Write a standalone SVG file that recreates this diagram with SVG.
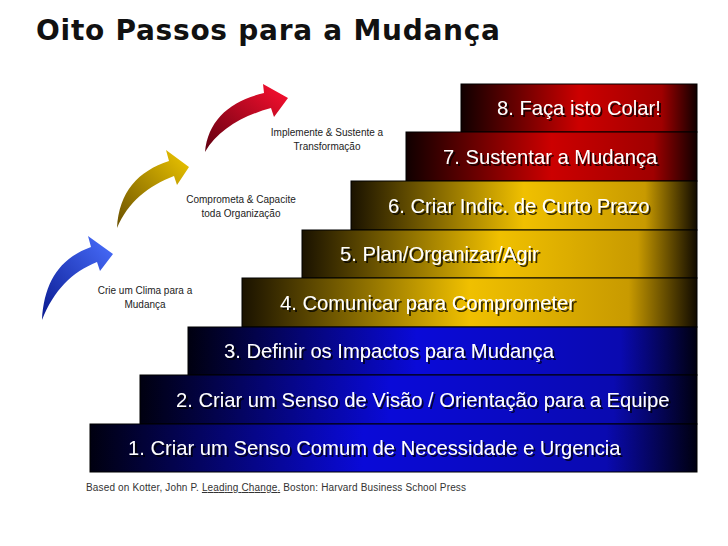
<svg xmlns="http://www.w3.org/2000/svg" width="728" height="546" viewBox="0 0 728 546">
<defs>
<linearGradient id="gb" x1="0" x2="1"><stop offset="0" stop-color="#000010"/><stop offset="0.45" stop-color="#0a0ad8"/><stop offset="0.85" stop-color="#0a0ab0"/><stop offset="1" stop-color="#000010"/></linearGradient>
<linearGradient id="gy" x1="0" x2="1"><stop offset="0" stop-color="#1a1200"/><stop offset="0.5" stop-color="#f0c000"/><stop offset="0.85" stop-color="#c89a00"/><stop offset="1" stop-color="#100a00"/></linearGradient>
<linearGradient id="gr" x1="0" x2="1"><stop offset="0" stop-color="#100000"/><stop offset="0.5" stop-color="#cc0000"/><stop offset="0.85" stop-color="#a00000"/><stop offset="1" stop-color="#100000"/></linearGradient>
<linearGradient id="ab" x1="0" y1="1" x2="1" y2="0"><stop offset="0" stop-color="#0a1a90"/><stop offset="1" stop-color="#4a70ff"/></linearGradient>
<linearGradient id="ay" x1="0" y1="1" x2="1" y2="0"><stop offset="0" stop-color="#6a5000"/><stop offset="1" stop-color="#f0c800"/></linearGradient>
<linearGradient id="ar" x1="0" y1="1" x2="1" y2="0"><stop offset="0" stop-color="#600010"/><stop offset="1" stop-color="#ff1030"/></linearGradient>
<filter id="ds" x="-5%" y="-30%" width="110%" height="160%"><feDropShadow dx="2" dy="2" stdDeviation="0.6" flood-color="#000" flood-opacity="0.75"/></filter>
</defs>
<style>
.t{font-family:"Liberation Sans",Arial,sans-serif;font-size:20.2px;fill:#fff;filter:url(#ds)}
.s{font-family:"Liberation Sans",Arial,sans-serif;font-size:10px;fill:#222;text-anchor:middle}
</style>
<rect width="728" height="546" fill="#fff"/>
<text x="36" y="40" font-family="DejaVu Sans,sans-serif" font-weight="bold" font-size="28" textLength="464" fill="#111">Oito Passos para a Mudança</text>
<g id="arrows">
<path d="M42,320 C44,282 60,258 91,247 L88,236 L113,254 L100,271 L97,262 C72,272 54,290 42,320 Z" fill="url(#ab)"/>
<path d="M117,228 C119,192 138,171 169,161 L166,150 L189,167 L177,185 L174,176 C148,186 128,202 117,228 Z" fill="url(#ay)"/>
<path d="M205,152 C208,120 230,101 264,93 L263,84 L288,98 L274,117 L271,108 C242,116 218,130 205,152 Z" fill="url(#ar)"/>
</g>
<g id="labels">
<text class="s" x="327" y="136">Implemente &amp; Sustente a</text>
<text class="s" x="327" y="150">Transformação</text>
<text class="s" x="241" y="203">Comprometa &amp; Capacite</text>
<text class="s" x="241" y="217">toda Organização</text>
<text class="s" x="145" y="294">Crie um Clima para a</text>
<text class="s" x="145" y="308">Mudança</text>
</g>
<g stroke="#000" stroke-width="1">
<g id="s8"><rect x="461" y="84" width="236" height="48" fill="url(#gr)"/></g>
<g id="s7"><rect x="406" y="132" width="291" height="49" fill="url(#gr)"/></g>
<g id="s6"><rect x="351" y="181" width="346" height="49" fill="url(#gy)"/></g>
<g id="s5"><rect x="302" y="230" width="395" height="48" fill="url(#gy)"/></g>
<g id="s4"><rect x="242" y="278" width="455" height="49" fill="url(#gy)"/></g>
<g id="s3"><rect x="188" y="327" width="509" height="48" fill="url(#gb)"/></g>
<g id="s2"><rect x="140" y="375" width="557" height="49" fill="url(#gb)"/></g>
<g id="s1"><rect x="90" y="424" width="607" height="48" fill="url(#gb)"/></g>
</g>
<g id="steptext">
<text class="t" x="497" y="115">8. Faça isto Colar!</text>
<text class="t" x="443" y="164">7. Sustentar a Mudança</text>
<text class="t" x="388" y="213">6. Criar Indic. de Curto Prazo</text>
<text class="t" x="340" y="261">5. Plan/Organizar/Agir</text>
<text class="t" x="280" y="310">4. Comunicar para Comprometer</text>
<text class="t" x="224" y="358">3. Definir os Impactos para Mudança</text>
<text class="t" x="176" y="407">2. Criar um Senso de Visão / Orientação para a Equipe</text>
<text class="t" x="128" y="455">1. Criar um Senso Comum de Necessidade e Urgencia</text>
</g>
<text x="86" y="491" font-family="Liberation Sans,Arial,sans-serif" font-size="10" fill="#333" textLength="380">Based on Kotter, John P.  <tspan text-decoration="underline">Leading Change.</tspan>  Boston:  Harvard Business School Press</text>
</svg>
